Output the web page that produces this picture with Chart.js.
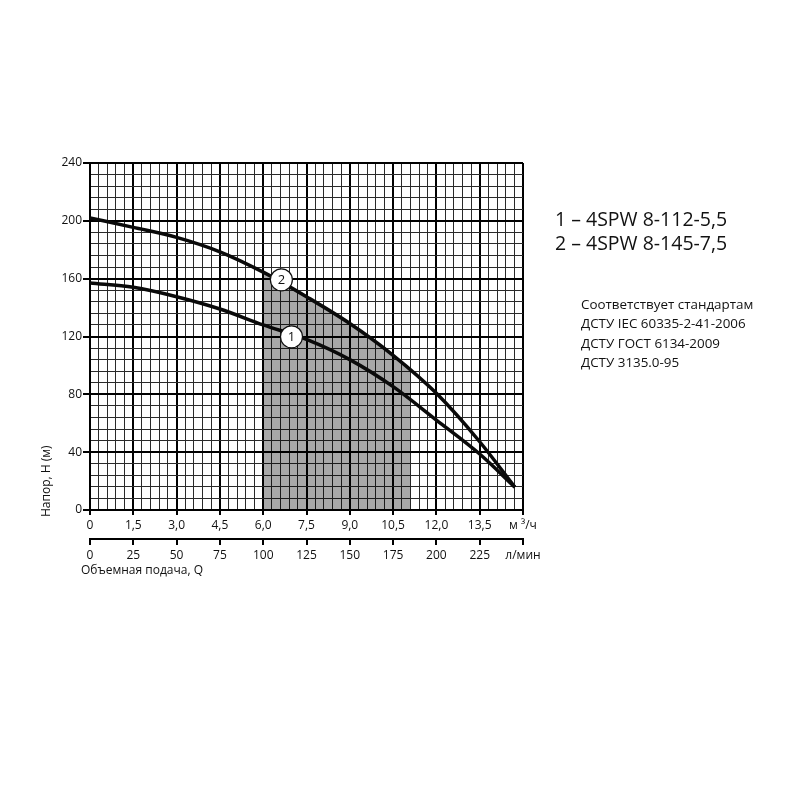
<!DOCTYPE html>
<html>
<head>
<meta charset="utf-8">
<script src="https://cdn.jsdelivr.net/npm/chart.js@4.4.1/dist/chart.umd.min.js"></script>
<style>
  html, body { margin: 0; padding: 0; background: #fff; }
  #wrap { position: relative; width: 800px; height: 800px; }
  canvas { position: absolute; left: 0; top: 0; }
  .models { position: absolute; left: 555px; top: 207px; font-family: 'Open Sans', sans-serif; font-size: 19.5px; line-height: 24px; color: #111; white-space: nowrap; }
  .std { position: absolute; left: 581px; top: 295px; font-family: 'Open Sans', sans-serif; font-size: 13.4px; line-height: 19.3px; color: #111; white-space: nowrap; }
</style>
</head>
<body>
<div id="wrap">
  <canvas id="c" width="800" height="800"></canvas>
  <div class="models">1 – 4SPW 8-112-5,5<br>2 – 4SPW 8-145-7,5</div>
  <div class="std">Соответствует стандартам<br>ДСТУ IEC 60335-2-41-2006<br>ДСТУ ГОСТ 6134-2009<br>ДСТУ 3135.0-95</div>
</div>
<script>
// ---- data ----
const flowM3h = [0, 1.5, 3.0, 4.5, 6.0, 7.5, 9.0, 10.5, 12.0, 13.5, 14.72];
const head1   = [157, 154, 147.5, 139, 128, 118, 104, 85.3, 62.2, 38.7, 15.7];   // 4SPW 8-112-5,5
const head2   = [202, 195.5, 188.6, 178.6, 164.5, 147.5, 129, 107, 80.7, 47.2, 15.7]; // 4SPW 8-145-7,5
const workQ   = [6.0, 7.5, 9.0, 10.5, 11.1];           // recommended working range (shaded)
const workH   = [164.5, 147.5, 129, 107, 96];
const markerQ = [6.98, 6.63];
const markerH = [119.8, 159.2];
const markerText = ['1', '2'];
const xTickStep = 0.3, xMajor = 1.5, xMax = 15;
const yTickStep = 8, yMajor = 40, yMax = 240;
const lpmStep = 25, lpmMax = 250;
const xUnit = 'м ³/ч';
const lpmUnit = 'л/мин';
const yTitle = 'Напор, Н (м)';
const xTitle = 'Объемная подача, Q';

const pts = (xs, ys) => xs.map((x, i) => ({x, y: ys[i]}));
const isMult = (v, m) => Math.abs(v / m - Math.round(v / m)) < 1e-6;

Chart.defaults.font.family = "'Open Sans', sans-serif";
Chart.defaults.font.size = 12;
Chart.defaults.color = '#111';

const markerLabels = {
  id: 'markerLabels',
  afterDatasetsDraw(chart) {
    const meta = chart.getDatasetMeta(0);
    const ctx = chart.ctx;
    ctx.save();
    ctx.fillStyle = '#111';
    ctx.font = "13px 'Open Sans', sans-serif";
    ctx.textAlign = 'center';
    ctx.textBaseline = 'middle';
    meta.data.forEach((el, i) => ctx.fillText(markerText[i], el.x, el.y + 0.5));
    ctx.restore();
  }
};

const axisTitles = {
  id: 'axisTitles',
  afterDraw(chart) {
    const ctx = chart.ctx, a = chart.chartArea;
    ctx.save();
    ctx.fillStyle = '#111';
    ctx.font = "12px 'Open Sans', sans-serif";
    ctx.textBaseline = 'middle';
    ctx.translate(a.left - 43, a.bottom + 7);
    ctx.rotate(-Math.PI / 2);
    ctx.textAlign = 'left';
    ctx.fillText(yTitle, 0, 0);
    ctx.restore();
    ctx.save();
    ctx.fillStyle = '#111';
    ctx.font = "12px 'Open Sans', sans-serif";
    ctx.textBaseline = 'middle';
    ctx.textAlign = 'left';
    ctx.fillText(xTitle, a.left - 9, a.bottom + 61);
    ctx.restore();
  }
};

new Chart(document.getElementById('c'), {
  type: 'line',
  data: {
    datasets: [
      { data: pts(markerQ, markerH), showLine: false, pointRadius: 11, pointHoverRadius: 11,
        pointBackgroundColor: '#fff', pointBorderColor: '#111', pointBorderWidth: 1.2, order: 0 },
      { data: pts(flowM3h, head1), borderColor: '#0a0a0a', borderWidth: 3.5, pointRadius: 0,
        cubicInterpolationMode: 'monotone', fill: false, order: 1 },
      { data: pts(flowM3h, head2), borderColor: '#0a0a0a', borderWidth: 3.5, pointRadius: 0,
        cubicInterpolationMode: 'monotone', fill: false, order: 1 },
      { data: pts(workQ, workH), borderWidth: 0, borderColor: 'rgba(0,0,0,0)', pointRadius: 0,
        backgroundColor: 'rgba(0,0,0,0.34)', cubicInterpolationMode: 'monotone', fill: 'origin', order: 2 }
    ]
  },
  options: {
    responsive: false,
    animation: false,
    devicePixelRatio: 1,
    layout: { padding: { left: 0, top: 163, right: 277, bottom: 0 } },
    plugins: { legend: { display: false }, tooltip: { enabled: false } },
    scales: {
      x: {
        type: 'linear', position: 'bottom', weight: 0, min: 0, max: xMax,
        ticks: {
          stepSize: xTickStep, autoSkip: false, maxRotation: 0, padding: 3, color: '#111',
          callback: v => {
            if (!isMult(v, xMajor)) return '';
            if (Math.abs(v - xMax) < 1e-6) return xUnit;
            return v === 0 ? '0' : v.toFixed(1).replace('.', ',');
          }
        },
        grid: {
          color: ctx => (ctx.tick && isMult(ctx.tick.value, xMajor)) ? '#000' : '#2a2a2a',
          lineWidth: ctx => (ctx.tick && isMult(ctx.tick.value, xMajor)) ? 2 : 1,
          tickLength: 5,
          tickColor: ctx => (ctx.tick && isMult(ctx.tick.value, xMajor)) ? '#000' : 'rgba(0,0,0,0)'
        },
        border: { display: true, color: '#000', width: 2 },
        afterFit: s => { s.height = 29; }
      },
      x2: {
        type: 'linear', position: 'bottom', weight: 1, min: 0, max: lpmMax,
        ticks: {
          stepSize: lpmStep, autoSkip: false, maxRotation: 0, padding: 3, color: '#111',
          callback: v => v === lpmMax ? lpmUnit : String(v)
        },
        grid: { drawOnChartArea: false, color: '#000', lineWidth: 2, tickLength: 6 },
        border: { display: true, color: '#000', width: 2 },
        afterFit: s => { s.height = 261; }
      },
      y: {
        type: 'linear', position: 'left', min: 0, max: yMax,
        ticks: {
          stepSize: yTickStep, autoSkip: false, padding: 1, color: '#111',
          callback: v => isMult(v, yMajor) ? String(v) : ''
        },
        grid: {
          color: ctx => (ctx.tick && isMult(ctx.tick.value, yMajor)) ? '#000' : '#2a2a2a',
          lineWidth: ctx => (ctx.tick && isMult(ctx.tick.value, yMajor)) ? 2 : 1,
          tickLength: 7,
          tickColor: ctx => (ctx.tick && isMult(ctx.tick.value, yMajor)) ? '#000' : 'rgba(0,0,0,0)'
        },
        border: { display: true, color: '#000', width: 2 },
        afterFit: s => { s.width = 90; }
      }
    }
  },
  plugins: [markerLabels, axisTitles]
});
</script>
</body>
</html>
